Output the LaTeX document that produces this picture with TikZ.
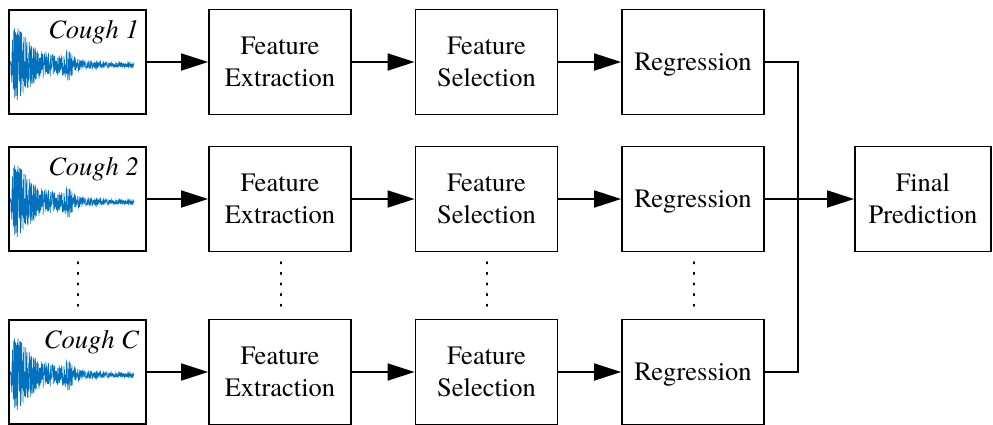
\documentclass[tikz,border=0pt]{standalone}
\usepackage{fontspec}
\setmainfont{texgyretermes}[Extension=.otf, UprightFont=*-regular, ItalicFont=*-italic, BoldFont=*-bold, BoldItalicFont=*-bolditalic]
\usetikzlibrary{arrows.meta}
\definecolor{wavecol}{RGB}{0,114,189}
\tikzset{
  box/.style={draw, line width=1.8pt, minimum width=142pt, minimum height=105pt, align=center, inner sep=0pt, font=\fontsize{26.5}{32}\selectfont},
  onel/.style={text height=17pt, text depth=0pt},
  coughbox/.style={draw, line width=1.8pt, minimum width=137pt, minimum height=104pt, inner sep=0pt},
  conn/.style={line width=1.8pt, -{Triangle[length=27pt,width=17pt]}},
  plain/.style={line width=1.8pt},
  vdots/.style={line width=1.6pt, dash pattern=on 1.6pt off 9pt, line cap=round},
  lbl/.style={font=\fontsize{26.5}{30}\selectfont\itshape, anchor=base east, inner sep=0pt},
  declare function={env(\x)=(\x<14) ? 48*(\x-10)/4 : min(48,28*exp(-(\x-14)/12)+22*exp(-(\x-14)/45)+9*exp(-((\x-68)/6)^2));}
}
\newcommand{\wavedraw}[1]{%
  \pgfmathsetseed{11}%
  \draw[wavecol, line width=0.6pt] plot[domain=10:134, samples=700] (\x, {#1 + 3 + env(\x)*rand});
}
\begin{document}
\begin{tikzpicture}[x=1pt,y=-1pt]
\useasboundingbox (0,0) rectangle (993,424);
% rows
\foreach \r/\cy/\lab in {1/62/1, 2/199/2, 3/372/C}{
  \wavedraw{\cy}
  \node[coughbox] (c\r) at (77.5,\cy) {};
  \node[lbl] (l\r) at (139,\cy-24) {Cough \lab};
  \node[box] (fe\r) at (280,\cy) {Feature\\Extraction};
  \node[box] (fs\r) at (486.5,\cy) {Feature\\Selection};
  \node[box, onel] (rg\r) at (693,\cy) {Regression};
  \draw[conn] (c\r.east) -- (fe\r.west);
  \draw[conn] (fe\r.east) -- (fs\r.west);
  \draw[conn] (fs\r.east) -- (rg\r.west);
}
\node[box, minimum width=136pt] (fp) at (923,199) {Final\\Prediction};
\coordinate (j1) at (798,62);
\coordinate (j3) at (798,372);
\draw[plain] (rg1.east) -- (j1) -- (j3) -- (rg3.east);
\draw[conn] (rg2.east) -- (fp.west);
% dots
\foreach \xx in {78,281,487,694}{
  \coordinate (da\xx) at (\xx,262);
  \coordinate (db\xx) at (\xx,314);
  \draw[vdots] (da\xx) -- (db\xx);
}
\end{tikzpicture}
\end{document}
